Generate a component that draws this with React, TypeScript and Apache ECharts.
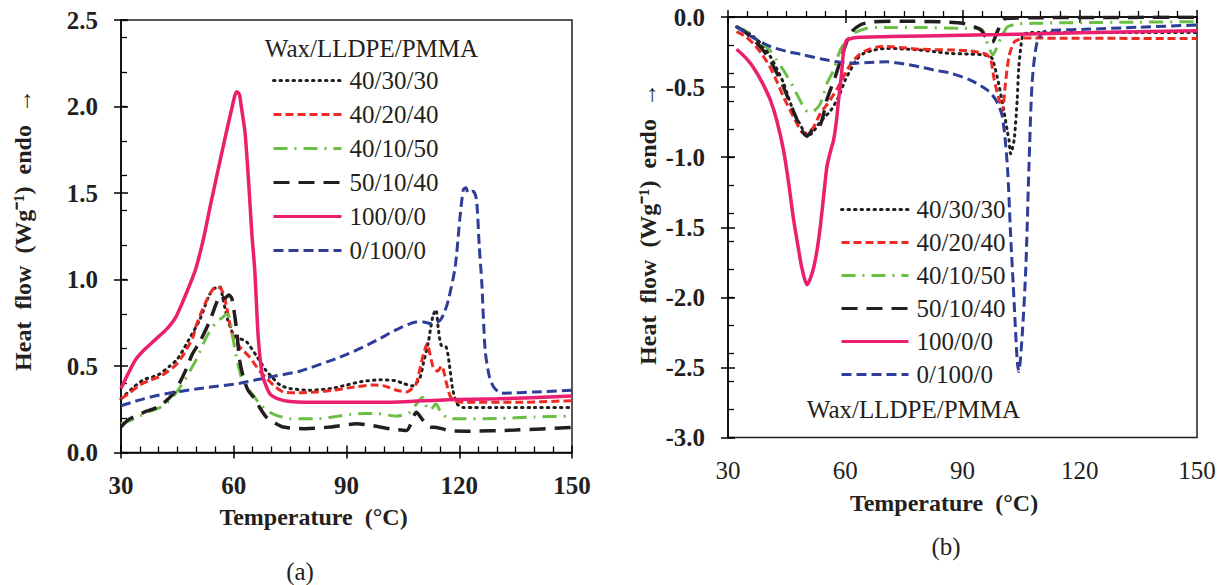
import React, { useEffect, useRef } from "react";
import * as echarts from "echarts";

const FONT = '"Liberation Serif", "Times New Roman", serif';
const TXT = "#231f20";

const NAMES = ["40/30/30", "40/20/40", "40/10/50", "50/10/40", "100/0/0", "0/100/0"];
const COLORS = ["#231f20", "#ee2a24", "#6cbf45", "#231f20", "#ec1e6e", "#2e3d98"];
const DASHES: any[] = [[1.5, 5], [8, 4], [14, 7, 2, 7], [16, 9], "solid", [10, 5]];
const WIDTHS = [3, 3, 3, 3.5, 3.5, 3];

const xTicksLabel = [30, 60, 90, 120, 150];

// (a) heating curves [T, heat flow]
const a_403030 = [[30,0.31],[33,0.37],[36,0.42],[40,0.45],[43,0.5],[45,0.54],[48,0.65],[51,0.77],[53.5,0.91],[55,0.95],[56.3,0.957],[57.2,0.88],[58.5,0.76],[60,0.68],[61.5,0.66],[63.4,0.64],[66,0.56],[68.7,0.47],[70,0.44],[72.3,0.39],[75,0.37],[80,0.36],[86,0.37],[90,0.39],[94,0.41],[99,0.42],[103,0.415],[105,0.4],[107.5,0.385],[109.5,0.43],[110.5,0.52],[111.7,0.63],[113,0.79],[113.8,0.825],[114.4,0.72],[115.2,0.62],[116.5,0.61],[117.3,0.52],[118.3,0.36],[119.5,0.28],[121,0.26],[130,0.26],[140,0.26],[150,0.26]];
const a_402040 = [[30,0.31],[32,0.34],[35,0.39],[38,0.42],[40.4,0.44],[42.5,0.47],[44.8,0.51],[47,0.58],[49.2,0.67],[50.1,0.74],[52.8,0.88],[55.2,0.957],[56.5,0.95],[57.5,0.9],[58.1,0.84],[59.2,0.72],[60,0.66],[61.6,0.61],[62.5,0.59],[64.3,0.55],[66.9,0.47],[68.7,0.43],[70.5,0.39],[73.2,0.35],[77,0.345],[82,0.35],[86.5,0.36],[90.9,0.375],[97,0.39],[100,0.385],[103.3,0.36],[106,0.35],[107.5,0.37],[108.6,0.4],[109.5,0.48],[110.5,0.57],[111.5,0.63],[112.2,0.57],[113.1,0.49],[114.2,0.47],[115.3,0.5],[116.6,0.4],[117.5,0.33],[118.5,0.3],[121,0.29],[135,0.29],[150,0.3]];
const a_401050 = [[30,0.165],[33,0.19],[35,0.21],[38,0.24],[40.4,0.26],[43,0.3],[44.8,0.35],[47,0.42],[48.3,0.47],[50.1,0.54],[52.8,0.67],[55.4,0.755],[57,0.78],[58.1,0.8],[58.7,0.79],[59.2,0.75],[59.8,0.66],[60.7,0.55],[61.6,0.47],[62.3,0.42],[63.5,0.38],[65.2,0.33],[67,0.28],[69.6,0.233],[72,0.21],[74.9,0.195],[82,0.195],[86,0.204],[90.9,0.22],[95,0.225],[98,0.225],[103.3,0.21],[106.9,0.233],[108.6,0.28],[110.2,0.32],[111.4,0.26],[112.2,0.245],[113.8,0.28],[115.3,0.224],[117.5,0.197],[120,0.195],[130,0.197],[140,0.205],[150,0.21]];
const a_501040 = [[30,0.147],[32,0.19],[35.9,0.23],[40.4,0.27],[43.9,0.34],[46,0.42],[47.5,0.49],[49,0.57],[51,0.64],[53.6,0.76],[55.5,0.87],[56.5,0.91],[57.5,0.89],[58.7,0.91],[59.5,0.89],[60.2,0.8],[60.8,0.7],[61.6,0.53],[62.5,0.44],[63.8,0.36],[66,0.3],[66.9,0.26],[68.7,0.204],[71,0.17],[73.2,0.147],[79,0.137],[85.6,0.147],[92.7,0.166],[97,0.155],[101.6,0.137],[106,0.127],[107,0.16],[108.6,0.233],[110.4,0.185],[112.2,0.147],[114,0.145],[115.8,0.135],[117.5,0.125],[121.9,0.123],[135,0.13],[150,0.145]];
const a_10000 = [[30,0.37],[32,0.46],[34,0.54],[36,0.59],[39,0.65],[42,0.71],[44.5,0.78],[46.6,0.88],[48.5,0.98],[50,1.07],[52,1.24],[53.7,1.42],[55.5,1.6],[57.2,1.77],[59.4,1.98],[60.8,2.085],[61.5,2.07],[62,2.0],[63,1.85],[64,1.55],[64.8,1.27],[65.6,1.05],[66.5,0.67],[67.4,0.47],[68,0.42],[69.6,0.34],[71.8,0.31],[75,0.295],[85,0.29],[100,0.29],[117,0.305],[130,0.31],[150,0.326]];
const a_01000 = [[30,0.27],[36,0.31],[42,0.34],[51,0.37],[61.6,0.4],[66,0.42],[70.5,0.44],[77.6,0.47],[85.6,0.53],[88.2,0.55],[94.5,0.61],[99,0.66],[103.3,0.71],[108.6,0.754],[110.5,0.755],[112.3,0.745],[114.9,0.764],[116.2,0.82],[117.1,0.88],[118.9,1.07],[120.2,1.36],[121.1,1.52],[121.8,1.53],[122.4,1.5],[123.7,1.51],[124.6,1.46],[125.3,1.2],[126,0.98],[126.9,0.59],[128,0.44],[129.1,0.38],[130.5,0.35],[131.8,0.343],[140,0.35],[150,0.36]];

// (b) cooling curves [T, heat flow]
const b_403030 = [[32.2,-0.07],[34.5,-0.1],[36.5,-0.14],[38.8,-0.2],[40.8,-0.28],[42.5,-0.37],[44.2,-0.47],[46.7,-0.67],[48.9,-0.79],[50.2,-0.845],[51.5,-0.83],[53,-0.77],[54.5,-0.72],[56.2,-0.67],[58.3,-0.57],[60,-0.45],[61.7,-0.36],[63,-0.3],[64.7,-0.26],[67.5,-0.235],[70.7,-0.224],[75,-0.228],[79.2,-0.236],[83.8,-0.25],[86.9,-0.26],[92,-0.265],[95.5,-0.27],[96.8,-0.28],[97.6,-0.296],[98.9,-0.43],[100,-0.58],[100.6,-0.67],[101.5,-0.82],[101.9,-0.88],[102.3,-0.976],[103.2,-0.88],[104,-0.59],[104.4,-0.36],[105.3,-0.14],[106,-0.12],[107.4,-0.11],[120,-0.11],[135,-0.11],[150,-0.11]];
const b_402040 = [[32.2,-0.105],[34.5,-0.14],[36.5,-0.19],[38.8,-0.27],[40.8,-0.36],[42.5,-0.46],[44.2,-0.57],[46.7,-0.71],[48.9,-0.82],[50.2,-0.83],[51.9,-0.785],[53.6,-0.69],[56.2,-0.59],[58.7,-0.475],[60.4,-0.38],[62.1,-0.31],[63.5,-0.27],[65.6,-0.236],[68,-0.215],[70.7,-0.21],[75,-0.22],[79.2,-0.23],[86.9,-0.235],[91.2,-0.24],[94.6,-0.255],[96,-0.265],[97.2,-0.3],[98,-0.43],[98.8,-0.53],[99.7,-0.62],[100.2,-0.67],[101,-0.47],[101.9,-0.28],[103.2,-0.18],[104.5,-0.16],[105.7,-0.15],[120,-0.152],[150,-0.153]];
const b_401050 = [[32.2,-0.07],[34.5,-0.1],[36.5,-0.14],[38.8,-0.19],[40.8,-0.24],[42.5,-0.31],[44.2,-0.38],[46.7,-0.5],[49.3,-0.64],[50.6,-0.68],[52,-0.67],[53.6,-0.62],[55.3,-0.475],[57,-0.38],[58.7,-0.236],[60.4,-0.165],[62.1,-0.117],[65.6,-0.08],[70,-0.075],[80,-0.075],[89.5,-0.08],[92,-0.08],[95,-0.09],[96.5,-0.2],[97.8,-0.27],[99,-0.2],[100,-0.14],[101.5,-0.07],[104,-0.05],[108.3,-0.045],[120,-0.04],[135,-0.037],[150,-0.033]];
const b_501040 = [[32.2,-0.07],[34.5,-0.11],[36.5,-0.16],[38.8,-0.23],[40.8,-0.31],[42.5,-0.4],[44.2,-0.5],[46.7,-0.67],[48.9,-0.81],[50.2,-0.85],[51.5,-0.81],[53.2,-0.79],[54.2,-0.72],[55.3,-0.59],[57.4,-0.43],[59.6,-0.24],[61.3,-0.117],[63.8,-0.057],[67.2,-0.034],[75,-0.03],[85,-0.035],[90,-0.045],[94.6,-0.09],[95.9,-0.14],[97.6,-0.18],[98.9,-0.105],[100,-0.04],[101,-0.01],[110,-0.005],[130,-0.003],[150,-0.002]];
const b_10000 = [[32.2,-0.23],[34.5,-0.29],[36.5,-0.36],[38.8,-0.47],[40.8,-0.59],[42.5,-0.74],[44.2,-0.95],[45.5,-1.18],[46.7,-1.43],[48,-1.65],[48.9,-1.79],[50.2,-1.91],[51,-1.87],[51.9,-1.79],[52.8,-1.66],[53.6,-1.5],[54.5,-1.27],[55.3,-1.07],[56.2,-0.96],[57,-0.88],[57.7,-0.75],[58.3,-0.59],[59,-0.42],[59.6,-0.24],[60.4,-0.165],[62,-0.15],[63.8,-0.145],[80,-0.135],[100,-0.125],[120,-0.113],[150,-0.098]];
const b_01000 = [[32.2,-0.07],[36,-0.14],[40.8,-0.21],[45,-0.245],[49.3,-0.27],[54,-0.3],[57.9,-0.32],[62.1,-0.33],[66,-0.325],[70.7,-0.32],[75,-0.335],[79.2,-0.356],[83,-0.38],[86.9,-0.4],[92,-0.45],[96.3,-0.52],[98.5,-0.59],[100.2,-0.71],[101.5,-1.07],[102.3,-1.55],[103.2,-2.03],[104,-2.455],[104.4,-2.53],[105.3,-2.26],[106.2,-1.79],[107,-1.07],[107.8,-0.475],[109,-0.19],[110.8,-0.105],[115,-0.093],[121.1,-0.088],[135,-0.073],[150,-0.057]];

const DATA_A = [a_403030, a_402040, a_401050, a_501040, a_10000, a_01000];
const DATA_B = [b_403030, b_402040, b_401050, b_501040, b_10000, b_01000];

function buildSeries(data: number[][][], xi: number, yi: number) {
  return data.map((d, i) => ({
    type: "line",
    name: NAMES[i],
    xAxisIndex: xi,
    yAxisIndex: yi,
    data: d,
    symbol: "none",
    showSymbol: false,
    smooth: 0.25,
    lineStyle: { color: COLORS[i], width: WIDTHS[i], type: DASHES[i], cap: i === 0 ? "round" : "butt" },
    itemStyle: { color: COLORS[i] },
    z: i === 4 ? 3 : 2,
  }));
}

function xAxes(grid: number, bold: boolean) {
  return [
    {
      type: "value", gridIndex: grid, min: 30, max: 150, interval: 30,
      axisLine: { show: true, lineStyle: { color: "#000", width: 1.5 } },
      axisTick: { show: true, inside: true, length: 7, lineStyle: { color: "#000", width: 1.5 } },
      minorTick: { show: true, splitNumber: 6, length: 6, lineStyle: { color: "#000", width: 1.3 } },
      splitLine: { show: false },
      axisLabel: {
        margin: 20, fontSize: 25, fontWeight: bold ? "bold" : "normal", fontFamily: FONT, color: TXT,
        formatter: (v: number) => (xTicksLabel.includes(v) ? String(v) : ""),
      },
    },
    {
      type: "value", gridIndex: grid, min: 30, max: 150, interval: 30, position: "bottom",
      axisLine: { show: false },
      axisTick: { show: true, inside: false, length: 6, lineStyle: { color: "#000", width: 1.5 } },
      axisLabel: { show: false }, splitLine: { show: false },
    },
  ];
}

function yAxes(grid: number, min: number, max: number) {
  return [
    {
      type: "value", gridIndex: grid, min, max, interval: 0.5,
      axisLine: { show: true, lineStyle: { color: "#000", width: 1.5 } },
      axisTick: { show: true, inside: false, length: 7, lineStyle: { color: "#000", width: 1.5 } },
      splitLine: { show: false },
      axisLabel: {
        margin: 23, fontSize: 25, fontWeight: "bold", fontFamily: FONT, color: TXT,
        formatter: (v: number) => v.toFixed(1),
      },
    },
    {
      type: "value", gridIndex: grid, min, max, interval: 0.2, position: "left",
      axisLine: { show: false },
      axisTick: { show: true, inside: true, length: 6, lineStyle: { color: "#000", width: 1.3 } },
      axisLabel: { show: false }, splitLine: { show: false },
    },
    {
      type: "value", gridIndex: grid, min, max, interval: 0.5, position: "left",
      axisLine: { show: false },
      axisTick: { show: true, inside: true, length: 7, lineStyle: { color: "#000", width: 1.5 } },
      axisLabel: { show: false }, splitLine: { show: false },
    },
  ];
}

function legend(left: number, top: number, gap: number, width: number) {
  return {
    orient: "vertical", left, top, padding: 0,
    itemWidth: width, itemHeight: 14, itemGap: gap,
    data: NAMES,
    selectedMode: false,
    icon: undefined,
    lineStyle: { width: 3 },
    itemStyle: { opacity: 0 },
    textStyle: { fontSize: 25, lineHeight: 25, fontFamily: FONT, color: TXT, padding: [0, 0, 0, 3] },
  };
}

function txt(x: number, y: number, text: string, size: number, bold: boolean, rot = 0) {
  return {
    type: "text", x, y, rotation: rot,
    style: {
      text, fill: TXT, font: `${bold ? "bold " : ""}${size}px ${FONT}`,
      textAlign: "center", textVerticalAlign: "middle",
    },
  };
}

export default function App() {
  const ref = useRef<HTMLDivElement>(null);
  useEffect(() => {
    if (!ref.current) return;
    const chart = echarts.init(ref.current, undefined, { renderer: "svg" });
    const yTitle = "Heat\u00a0\u00a0flow\u00a0\u00a0(Wg\u207b\u00b9)\u00a0\u00a0endo\u00a0\u00a0\u2192";
    chart.setOption({
      animation: false,
      backgroundColor: "#fff",
      grid: [
        { left: 121, top: 20, width: 451, height: 432.5, show: true, borderColor: "#231f20", borderWidth: 1.5, backgroundColor: "transparent" },
        { left: 728, top: 17, width: 469, height: 420.5, show: true, borderColor: "#231f20", borderWidth: 1.5, backgroundColor: "transparent" },
      ],
      xAxis: [...xAxes(0, true), ...xAxes(1, false)],
      yAxis: [...yAxes(0, 0, 2.5), ...yAxes(1, -3, 0)],
      legend: [legend(272, 68, 9, 68), legend(840, 197, 8, 67)],
      series: [...buildSeries(DATA_A, 0, 0), ...buildSeries(DATA_B, 2, 3)],
      graphic: [
        txt(23, 230, yTitle, 24, true, Math.PI / 2),
        txt(648, 224, yTitle, 24, true, Math.PI / 2),
        txt(313.5, 517, "Temperature\u00a0\u00a0(\u00b0C)", 24, true),
        txt(944, 503, "Temperature\u00a0\u00a0(\u00b0C)", 24, true),
        txt(300, 571, "(a)", 25, false),
        txt(946, 546, "(b)", 25, false),
        txt(371.5, 48, "Wax/LLDPE/PMMA", 25, false),
        txt(913.5, 409, "Wax/LLDPE/PMMA", 25, false),
      ],
    });
    return () => chart.dispose();
  }, []);
  return <div ref={ref} style={{ position: "absolute", left: 0, top: 0, width: 1227, height: 585 }} />;
}
